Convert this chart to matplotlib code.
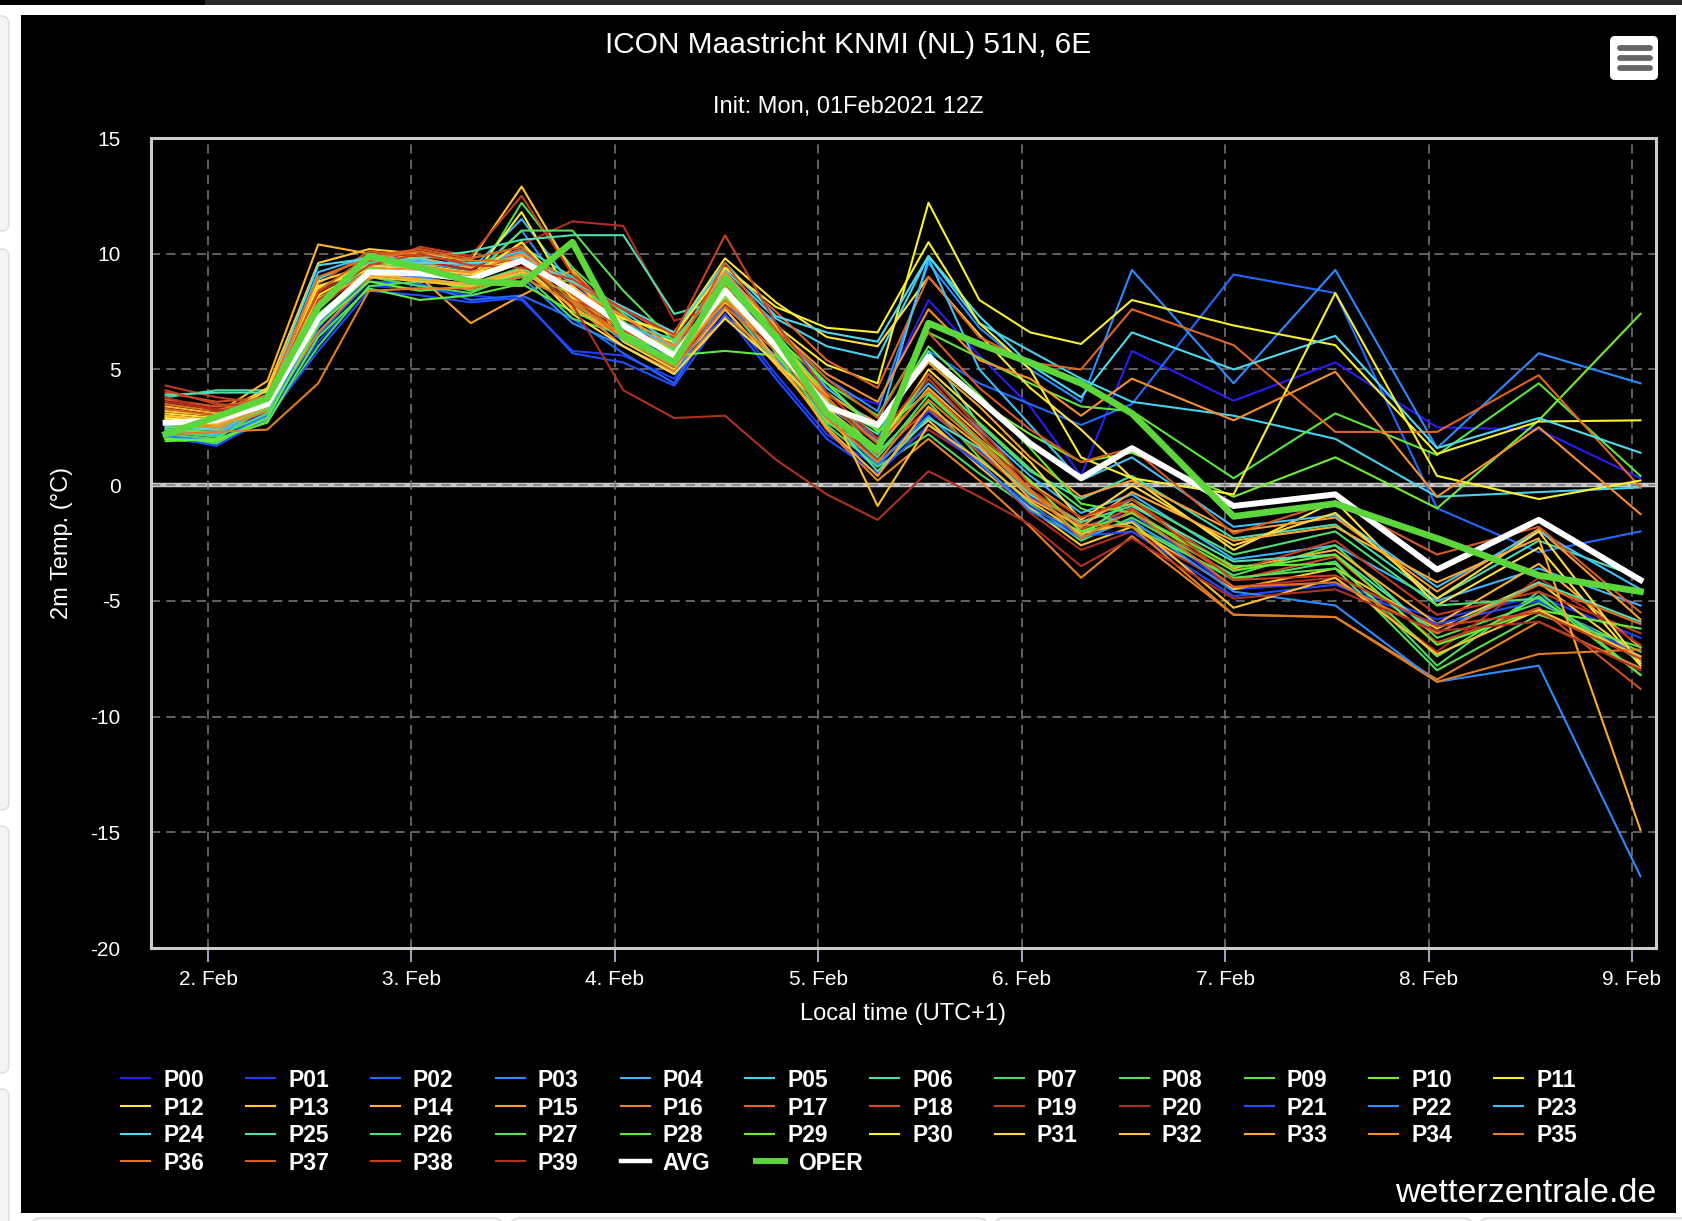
import matplotlib
matplotlib.use("Agg")
import matplotlib.pyplot as plt
from matplotlib.patches import Rectangle, FancyBboxPatch
from matplotlib.lines import Line2D
from matplotlib.transforms import IdentityTransform

plt.rcParams["font.family"] = ["Liberation Sans", "DejaVu Sans"]

# lead time in hours from 1 Feb 00:00 local time
hours = [19, 25, 31, 37, 43, 49, 55, 61, 67, 73, 79, 85, 91, 97, 103, 109, 115, 121, 127, 133,
         145, 157, 169, 181, 193]

day_ticks = [2, 3, 4, 5, 6, 7, 8, 9]
day_labels = ["2. Feb", "3. Feb", "4. Feb", "5. Feb", "6. Feb", "7. Feb", "8. Feb", "9. Feb"]
temp_ticks = [-20, -15, -10, -5, 0, 5, 10, 15]

p00 = [2.3, 2.1, 3.2, 6.8, 9.0, 9.0, 8.5, 9.3, 8.6, 7.3, 5.2, 8.0, 6.3, 4.2, 3.5, 8.0, 5.6, 3.4, 0.4, 5.8, 3.65, 5.3, 2.5, 2.4, 0.3]
p01 = [2.0, 1.8, 3.0, 6.2, 8.6, 8.5, 8.2, 8.0, 5.8, 5.6, 4.6, 7.6, 4.8, 2.2, 0.8, 3.2, 1.5, -0.5, -1.8, -1.2, -4.5, -4.2, -5.8, -4.8, -6.6]
p02 = [2.2, 1.9, 3.1, 6.5, 8.8, 8.7, 8.0, 8.2, 7.2, 5.7, 4.4, 7.9, 5.3, 3.6, 2.0, 5.8, 4.4, 3.5, 2.6, 3.5, 9.1, 8.3, -1.0, -2.9, -2.0]
p03 = [2.0, 1.8, 3.0, 6.8, 9.4, 9.6, 9.0, 11.0, 8.0, 6.2, 5.0, 8.6, 6.8, 4.6, 3.2, 9.6, 6.8, 5.0, 3.6, 9.3, 4.4, 9.3, 1.6, 5.7, 4.4]
p04 = [2.4, 2.2, 3.3, 8.4, 9.8, 9.6, 9.3, 11.5, 8.6, 6.6, 5.4, 8.6, 6.0, 3.4, 1.9, 4.4, 2.4, 0.4, -1.2, -0.4, -3.2, -2.6, -5.0, -3.6, -5.2]
p05 = [2.6, 2.5, 3.6, 8.9, 9.9, 9.8, 9.4, 10.0, 8.9, 7.5, 6.1, 9.3, 7.2, 6.0, 5.5, 9.9, 7.0, 5.8, 4.6, 3.6, 3.0, 2.0, -0.5, -0.3, -0.1]
p06 = [3.8, 4.1, 4.1, 7.6, 9.5, 9.4, 9.8, 10.3, 9.0, 7.0, 6.3, 8.8, 6.4, 3.6, 2.2, 5.8, 2.6, 0.6, -0.6, 0.4, -2.3, -1.7, -4.9, -2.4, -4.0]
p07 = [2.2, 2.0, 3.4, 7.0, 9.0, 8.6, 8.3, 9.2, 7.2, 6.5, 6.0, 7.9, 5.3, 2.6, 0.8, 2.2, 0.5, -1.0, -2.0, -1.6, -4.1, -3.3, -7.8, -4.6, -8.2]
p08 = [2.0, 1.8, 2.8, 6.0, 8.6, 8.8, 8.6, 12.2, 9.4, 7.4, 5.6, 8.4, 6.6, 3.8, 1.4, 3.6, 1.2, -0.8, -2.4, -1.4, -3.9, -2.6, -6.6, -5.1, -7.2]
p09 = [2.5, 2.4, 3.5, 7.8, 9.3, 9.0, 8.4, 9.0, 8.8, 7.1, 5.4, 9.1, 6.7, 4.4, 3.0, 6.6, 5.5, 4.4, 3.4, 3.2, 0.3, 3.1, 1.3, 4.4, 0.4]
p10 = [2.4, 2.3, 3.4, 7.3, 9.1, 8.9, 8.5, 9.4, 8.5, 6.9, 5.7, 8.2, 6.3, 4.0, 2.5, 5.4, 3.6, 2.2, 1.0, 1.4, -0.5, 1.2, -1.0, 2.8, 7.4]
p11 = [2.8, 2.6, 3.8, 8.2, 9.4, 9.1, 8.9, 11.8, 8.0, 6.8, 6.2, 8.8, 6.9, 5.2, 4.4, 12.2, 8.0, 6.6, 6.1, 8.0, 6.9, 6.05, 1.35, 2.75, 2.8]
p12 = [3.0, 2.8, 3.9, 8.5, 9.6, 9.5, 9.2, 9.8, 8.3, 7.2, 6.6, 9.8, 7.9, 6.4, 6.0, 9.0, 6.5, 4.2, 2.4, 0.3, -2.8, -0.7, -5.2, -2.7, -7.8]
p13 = [3.2, 3.0, 4.2, 9.6, 10.2, 10.0, 9.7, 12.9, 9.2, 6.2, 5.0, 7.6, 5.2, 2.8, 1.0, 2.8, 0.8, -1.0, -2.6, -1.8, -4.5, -3.6, -6.2, -4.2, -7.5]
p14 = [3.4, 3.1, 4.5, 10.4, 10.0, 9.8, 9.4, 9.9, 7.6, 6.4, 5.2, 8.6, 5.9, 3.1, 1.6, 4.2, 2.2, 0.1, -1.4, -0.8, -3.6, -2.8, -6.0, -3.4, -7.0]
p15 = [2.9, 2.7, 3.7, 7.2, 9.3, 9.0, 7.0, 8.2, 9.3, 7.0, 5.9, 8.0, 6.0, 3.9, 2.7, 5.3, 3.4, 1.2, -0.5, 0.2, -2.0, -1.4, -4.6, -1.9, -5.8]
p16 = [2.6, 2.4, 3.2, 6.6, 8.9, 9.5, 9.1, 9.6, 7.8, 6.0, 4.9, 7.3, 5.6, 2.4, 0.2, 2.0, 0.2, -1.8, -4.0, -2.2, -5.6, -5.7, -8.4, -5.9, -7.9]
p17 = [3.3, 3.0, 3.9, 8.0, 9.7, 9.6, 9.5, 10.2, 8.7, 7.6, 6.4, 9.4, 7.5, 5.4, 4.2, 9.0, 6.4, 5.3, 5.0, 7.6, 6.05, 2.3, 2.3, 4.75, -0.1]
p18 = [4.0, 3.6, 3.8, 8.7, 10.1, 9.9, 9.6, 10.0, 8.1, 6.5, 5.3, 8.1, 6.2, 3.3, 1.3, 3.3, 1.4, -0.4, -1.9, -1.0, -4.1, -3.1, -6.8, -5.3, -8.8]
p19 = [4.3, 3.8, 3.5, 7.6, 9.4, 10.3, 9.9, 12.5, 9.1, 7.3, 5.5, 8.7, 6.5, 3.5, 1.8, 4.6, 2.3, -0.2, -1.6, -0.6, -3.7, -2.4, -5.6, -4.6, -6.4]
p20 = [3.6, 3.3, 3.6, 8.3, 9.6, 9.7, 9.3, 10.4, 11.4, 11.2, 7.1, 7.8, 6.0, 3.0, 1.1, 2.4, 1.0, -1.2, -2.8, -2.0, -4.4, -4.0, -7.2, -4.0, -6.9]
p21 = [2.1, 1.7, 2.9, 5.8, 8.4, 8.2, 7.9, 8.1, 5.7, 5.3, 4.3, 7.4, 4.6, 2.0, 0.5, 2.6, 0.9, -0.9, -2.2, -2.0, -4.8, -4.3, -6.0, -5.0, -7.4]
p22 = [2.1, 1.9, 3.0, 7.0, 9.2, 9.0, 8.6, 9.0, 7.0, 6.0, 4.8, 8.0, 5.5, 2.9, 0.9, 3.0, 1.0, -1.1, -2.3, -1.5, -4.6, -5.2, -8.5, -7.8, -16.9]
p23 = [2.3, 2.2, 3.6, 9.2, 9.9, 9.7, 9.5, 10.1, 8.4, 7.0, 6.0, 9.0, 7.0, 4.2, 2.5, 9.8, 5.0, 2.6, 0.2, 1.2, -1.8, -1.3, -4.4, -2.0, -4.5]
p24 = [2.5, 2.4, 3.9, 9.5, 9.8, 9.6, 9.6, 9.8, 8.8, 7.7, 6.6, 9.6, 7.3, 6.6, 6.2, 9.9, 7.3, 5.2, 3.8, 6.6, 5.0, 6.45, 1.6, 2.9, 1.4]
p25 = [3.9, 4.0, 4.0, 7.9, 9.6, 9.8, 10.1, 10.6, 10.8, 10.8, 7.4, 8.0, 6.2, 3.0, 0.6, 2.9, 1.6, -0.4, -1.6, -0.9, -3.3, -3.0, -6.4, -4.2, -5.9]
p26 = [2.3, 2.1, 3.1, 7.4, 9.2, 8.8, 8.7, 9.4, 7.9, 6.3, 5.9, 8.5, 5.8, 3.2, 1.2, 3.9, 1.9, -0.2, -2.2, -0.6, -3.0, -2.0, -5.2, -4.9, -7.6]
p27 = [2.6, 2.5, 3.3, 8.0, 9.4, 9.2, 8.9, 11.0, 11.0, 8.4, 6.2, 8.9, 5.7, 2.7, 1.5, 4.8, 2.7, 0.7, -1.0, -1.8, -4.0, -3.6, -8.0, -5.6, -7.0]
p28 = [1.9, 2.0, 2.7, 6.4, 8.5, 8.0, 8.2, 8.7, 7.5, 6.6, 5.6, 5.8, 5.6, 3.5, 2.4, 6.0, 3.9, 1.6, -0.8, -1.2, -3.5, -3.4, -7.4, -4.8, -8.2]
p29 = [2.0, 1.9, 2.9, 6.9, 8.8, 8.4, 8.6, 9.1, 8.3, 6.9, 5.8, 8.1, 6.4, 4.4, 2.3, 4.0, 2.0, 0.2, -2.0, -1.2, -3.7, -3.0, -6.9, -5.4, -6.2]
p30 = [2.9, 2.7, 3.6, 8.6, 9.3, 9.1, 9.0, 10.5, 8.1, 7.2, 6.5, 9.4, 7.7, 6.8, 6.6, 10.5, 7.0, 5.0, 1.2, 0.3, -0.4, 8.3, 0.4, -0.6, 0.2]
p31 = [3.1, 2.9, 4.1, 8.8, 9.5, 9.3, 9.1, 9.7, 7.4, 6.0, 4.8, 7.2, 5.3, 3.3, 1.6, 5.0, 3.0, 1.0, -1.5, 0.0, -2.6, -1.2, -4.9, -2.0, -7.7]
p32 = [3.0, 2.8, 3.8, 8.1, 9.0, 8.8, 8.6, 9.2, 8.6, 7.0, 5.6, 7.9, 6.4, 3.7, -0.9, 2.6, 1.1, -0.7, -2.1, -1.6, -5.3, -4.0, -7.3, -5.4, -7.4]
p33 = [2.8, 2.6, 3.5, 7.9, 9.1, 8.9, 8.7, 9.3, 7.7, 6.4, 5.2, 8.3, 5.4, 2.5, 0.4, 3.4, 1.7, -0.6, -1.8, -0.3, -2.4, -1.8, -4.2, -2.3, -14.9]
p34 = [2.7, 2.5, 3.4, 7.7, 9.3, 9.4, 9.2, 10.0, 8.5, 7.3, 6.0, 9.2, 6.8, 4.8, 3.6, 7.6, 5.4, 4.6, 3.0, 4.6, 2.8, 4.9, -0.5, 2.5, -1.25]
p35 = [2.2, 2.3, 2.4, 4.4, 8.4, 8.5, 8.5, 9.0, 7.9, 6.5, 5.2, 8.0, 5.9, 2.9, 1.0, 3.7, 1.8, -0.3, -1.7, -1.8, -5.6, -5.7, -8.5, -7.3, -7.1]
p36 = [3.5, 3.2, 3.9, 9.0, 9.8, 10.1, 9.7, 9.7, 8.0, 6.3, 5.1, 7.7, 5.8, 3.8, 1.8, 4.1, 2.0, -0.2, -2.3, -1.1, -4.4, -4.2, -6.4, -4.3, -6.0]
p37 = [3.7, 3.4, 3.7, 8.4, 9.9, 10.2, 9.8, 10.3, 8.2, 6.7, 5.6, 9.6, 6.7, 4.6, 2.9, 6.6, 4.2, 2.4, 1.0, 1.6, -2.1, -0.7, -3.0, -1.8, -5.5]
p38 = [4.1, 3.5, 3.4, 8.0, 9.5, 10.0, 9.5, 9.4, 8.9, 7.6, 6.5, 10.8, 7.0, 4.0, 2.0, 4.8, 2.5, 0.0, -1.4, -0.6, -4.1, -3.9, -6.1, -5.5, -7.5]
p39 = [3.8, 3.2, 3.5, 7.8, 9.1, 9.3, 9.0, 9.6, 7.8, 4.1, 2.9, 3.0, 1.1, -0.4, -1.5, 0.6, -0.5, -1.7, -3.5, -2.3, -4.9, -4.5, -6.3, -5.9, -8.0]

avg = [2.7, 2.8, 3.5, 7.2, 9.2, 9.15, 8.9, 9.7, 8.4, 6.9, 5.6, 8.4, 6.0, 3.4, 2.6, 5.55, 3.7, 1.8, 0.3, 1.6,
       -0.9, -0.4, -3.65, -1.5, -4.1]
oper = [2.2, 2.95, 3.75, 7.7, 9.9, 9.4, 8.8, 8.7, 10.5, 6.4, 5.3, 8.9, 6.4, 3.1, 1.5, 7.0, 6.1, 5.3, 4.4, 3.1,
        -1.35, -0.8, -2.3, -3.9, -4.6]

members = [p00, p01, p02, p03, p04, p05, p06, p07, p08, p09, p10, p11, p12, p13, p14, p15, p16, p17, p18, p19,
           p20, p21, p22, p23, p24, p25, p26, p27, p28, p29, p30, p31, p32, p33, p34, p35, p36, p37, p38, p39]
names = ["P%02d" % i for i in range(40)]

colors = ["#2b1cf5", "#1f3cff", "#1f6bff", "#2b8cff", "#3cb4ff", "#45d2ef", "#46dcb0", "#4bd96c",
          "#50df52", "#5ae63c", "#74ee30", "#f6ef2e", "#ffe03e", "#ffc832", "#ffb22e", "#f79c2e",
          "#ea8226", "#e06522", "#d24e22", "#c33d22", "#b22c22", "#1f4dff", "#2b8cff", "#40c0f8",
          "#4fd9f0", "#4ee0b2", "#50dd70", "#58e050", "#5ee840", "#6aee35", "#f8f030", "#ffd840",
          "#ffc030", "#ffa830", "#f59030", "#e07e20", "#e07020", "#d85a20", "#c84020", "#b03020"]
oper_color = "#5cd63a"

W, H = 1683, 1221


def fx(x):
    return x / W


def fy(y):
    return 1 - y / H


def px_box(fig, x0, y0, x1, y1, round_px=0, **kw):
    # box in screen pixels, measured from the top left corner
    if round_px:
        p = FancyBboxPatch((x0, H - y1), x1 - x0, y1 - y0,
                           boxstyle="round,pad=0,rounding_size=%g" % round_px,
                           transform=IdentityTransform(), **kw)
    else:
        p = Rectangle((x0, H - y1), x1 - x0, y1 - y0, transform=IdentityTransform(), **kw)
    fig.add_artist(p)
    return p


fig = plt.figure(figsize=(W / 100, H / 100), dpi=100, facecolor="white")

# browser bits around the chart
px_box(fig, 0, 0, W, 5, facecolor="#2a2a2a", edgecolor="none", zorder=-20)
px_box(fig, 0, 0, 205, 5, facecolor="black", edgecolor="none", zorder=-19)
for y0, y1 in [(16, 231), (249, 810), (826, 1073), (1089, 1240)]:
    px_box(fig, -20, y0, 9, y1, round_px=8, facecolor="#f4f4f4", edgecolor="#dcdcdc", lw=1, zorder=-20)
for x0, x1 in [(32, 502), (511, 987), (995, 1472), (1480, 1720)]:
    px_box(fig, x0, 1218, x1, 1250, round_px=8, facecolor="#f7f7f7", edgecolor="#d6d6d6", lw=1, zorder=-20)

# black chart panel
px_box(fig, 21, 15, 1676, 1213, facecolor="black", edgecolor="none", zorder=-10)

# menu button
px_box(fig, 1610, 36, 1658, 80, round_px=5, facecolor="white", edgecolor="none", zorder=5)
for yb in [48, 58, 68]:
    fig.add_artist(Line2D([1620, 1650], [H - yb, H - yb], transform=IdentityTransform(),
                          color="#666666", lw=4.2, solid_capstyle="round", zorder=6))

ax = fig.add_axes([fx(151), fy(948), (1656 - 151) / W, (948 - 138) / H])
ax.set_facecolor("black")
ax.set_axisbelow(True)

# x axis is the day of February
days = [1 + h / 24 for h in hours]

ax.axhline(0, color="#c8c8c8", lw=3.2, zorder=0.4)

for vals, col in zip(members, colors):
    ax.plot(days, vals, color=col, lw=1.5, zorder=2)
ax.plot(days, avg, color="white", lw=4.3, zorder=3)
ax.plot(days, oper, color=oper_color, lw=4.8, zorder=4)

ax.set_xlim(1.7198, 9.118)
ax.set_ylim(-20, 15)
ax.set_xticks(day_ticks)
ax.set_xticklabels(day_labels)
ax.set_yticks(temp_ticks)
ax.set_yticklabels([str(v) for v in temp_ticks])

ax.grid(True, color="#7c7c7c", linestyle=(0, (6, 4)), linewidth=1.1)
ax.tick_params(axis="x", length=10, width=1.1, color="#ccd6eb", labelcolor="white", labelsize=15, pad=6)
ax.tick_params(axis="y", length=0, labelcolor="white", labelsize=15, pad=22)
for s in ax.spines.values():
    s.set_color("#cccccc")
    s.set_linewidth(2.2)

fig.text(fx(848.5), fy(45), "ICON Maastricht KNMI (NL) 51N, 6E", ha="center", va="center",
         fontsize=21.5, color="white")
fig.text(fx(848.5), fy(107), "Init: Mon, 01Feb2021 12Z", ha="center", va="center",
         fontsize=17, color="white")
fig.text(fx(903.5), fy(1014), "Local time (UTC+1)", ha="center", va="center", fontsize=17, color="white")
fig.text(fx(62), fy(543), "2m Temp. (°C)", ha="center", va="center", rotation=90, fontsize=17, color="white")
fig.text(fx(1656), fy(1194), "wetterzentrale.de", ha="right", va="center", fontsize=24.5, color="white")

# legend, 12 items per row; OPER sits a little further right after the wider AVG entry
leg_names = names + ["AVG", "OPER"]
leg_colors = colors + ["white", oper_color]
leg_widths = [1.5] * 40 + [3.2, 4.3]
for k, (nm, col, lw) in enumerate(zip(leg_names, leg_colors, leg_widths)):
    r, c = divmod(k, 12)
    y = 1077.7 + 27.9 * r
    x0 = 121.3 + 124.8 * c
    if nm == "OPER":
        x0 += 11
    fig.add_artist(Line2D([x0, x0 + 29], [H - y, H - y], transform=IdentityTransform(),
                          color=col, lw=lw, zorder=5))
    fig.text(fx(x0 + 42), fy(y), nm, ha="left", va="center_baseline", fontsize=16.5,
             fontweight="bold", color="white")

fig.savefig("out.png", dpi=100, facecolor=fig.get_facecolor())
